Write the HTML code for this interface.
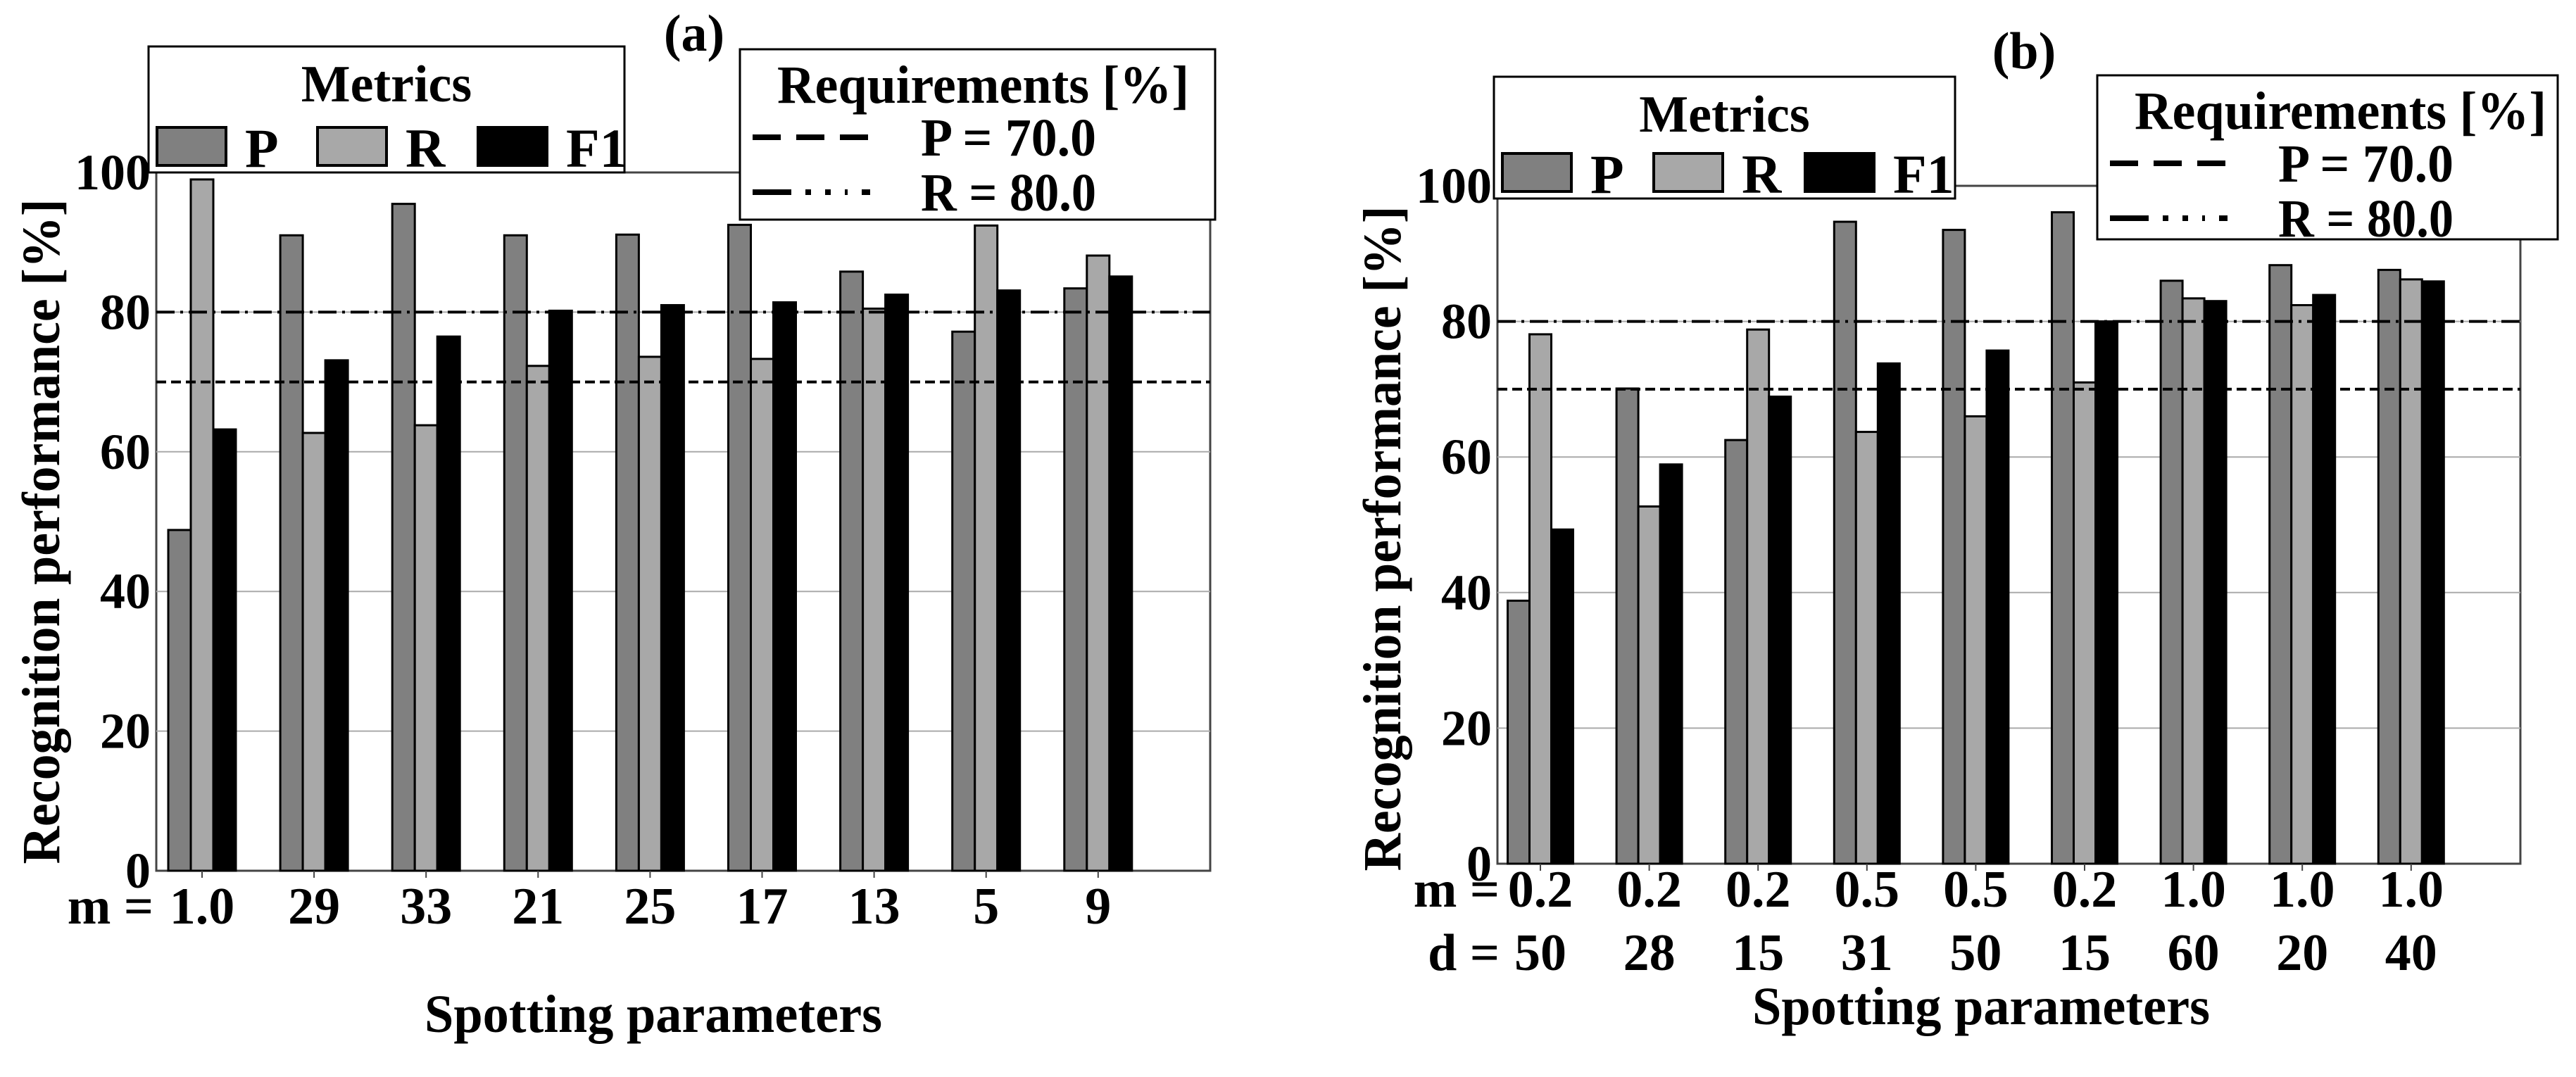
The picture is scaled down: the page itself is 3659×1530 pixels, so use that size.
<!DOCTYPE html>
<html><head><meta charset="utf-8"><style>
html,body{margin:0;padding:0;background:#fff;}
svg, svg text{font-family:"Liberation Serif","Times New Roman",serif;font-weight:bold;}
</style></head><body>
<svg id="chart" width="3659" height="1525" viewBox="0 0 3659 1525" xmlns="http://www.w3.org/2000/svg" font-family="Liberation Serif, serif" font-weight="bold"></svg>
<script>
const metrics = ["P","R","F1"];
const yTicks = [0,20,40,60,80,100];
const reqP = 70.0;
const reqR = 80.0;
const catsA = ["1.0","29","33","21","25","17","13","5","9"];
const pA = [48.8,91.0,95.5,91.0,91.1,92.5,85.8,77.2,83.4];
const rA = [99.0,62.7,63.8,72.3,73.6,73.3,80.5,92.4,88.1];
const f1A = [63.2,73.1,76.5,80.2,81.0,81.4,82.5,83.1,85.1];
const catsBm = ["0.2","0.2","0.2","0.5","0.5","0.2","1.0","1.0","1.0"];
const catsBd = ["50","28","15","31","50","15","60","20","40"];
const pB = [38.8,70.1,62.5,94.7,93.5,96.1,86.0,88.3,87.6];
const rB = [78.1,52.7,78.8,63.7,66.0,71.0,83.4,82.4,86.2];
const f1B = [49.3,58.9,68.9,73.8,75.7,80.0,83.0,83.9,85.9];

const NS="http://www.w3.org/2000/svg";
const svg=document.getElementById('chart');
function mk(tag,attrs,parent,txt){const e=document.createElementNS(NS,tag);for(const k in attrs)e.setAttribute(k,attrs[k]);if(tag==='text'){e.setAttribute('font-family','Liberation Serif, serif');e.setAttribute('font-weight','bold');}if(txt!==undefined)e.textContent=txt;(parent||svg).appendChild(e);return e;}
const fills={P:"#808080",R:"#a8a8a8",F1:"#000000"};

function panel(cfg){
  const g=mk('g',{});
  
  
  const y=v=>cfg.y0-(v/100)*(cfg.y0-cfg.y100);
  const x=i=>cfg.c0+i*cfg.pitch;
  const fr=mk('rect',{x:cfg.left,y:cfg.y100,width:cfg.right-cfg.left,height:cfg.y0-cfg.y100,fill:'none',stroke:'#444','stroke-width':3},g);
  
  
  yTicks.forEach(t=>{
    if(t>0&&t<100){const l=mk('line',{x1:cfg.left,x2:cfg.right,y1:y(t),y2:y(t),stroke:'#aaa','stroke-width':2},g);
      
      }
    const tl=mk('text',{x:cfg.left-8,y:y(t)+24,'text-anchor':'end','font-size':72},g,String(t));
    
    
  });
  const series=[cfg.p,cfg.r,cfg.f1];
  const bw=cfg.bw;
  cfg.cats.forEach((c,i)=>{
    series.forEach((s,k)=>{
      const bx=x(i)+(k-1.5)*bw;
      const b=mk('rect',{x:bx,y:y(s[i]),width:bw,height:cfg.y0-y(s[i]),fill:fills[metrics[k]],stroke:'#000','stroke-width':3},g);
      
      
    });
    const tk=mk('line',{x1:x(i),x2:x(i),y1:cfg.y0,y2:cfg.y0+10,stroke:'#444','stroke-width':2},g);
    
    
    const t1=mk('text',{x:x(i),y:cfg.labY1,'text-anchor':'middle','font-size':74},g,c);
    
    
    if(cfg.cats2){const t2=mk('text',{x:x(i),y:cfg.labY2,'text-anchor':'middle','font-size':74},g,cfg.cats2[i]);
      
      }
  });
  const lp=mk('line',{x1:cfg.left,x2:cfg.right,y1:y(reqP),y2:y(reqP),stroke:'#000','stroke-width':4,'stroke-dasharray':'14 7'},g);
  
  
  const lr=mk('line',{x1:cfg.left,x2:cfg.right,y1:y(reqR),y2:y(reqR),stroke:'#000','stroke-width':4,'stroke-dasharray':'26 8 4 8'},g);
  
  
  const m=mk('text',{x:cfg.mX,y:cfg.labY1,'text-anchor':'end','font-size':74},g,'m =');
  
  
  if(cfg.cats2){const d=mk('text',{x:cfg.mX,y:cfg.labY2,'text-anchor':'end','font-size':74},g,'d  =');
    
    }
  const xt=mk('text',{x:cfg.xtX,y:cfg.xtY,'text-anchor':'middle','font-size':76,textLength:650,lengthAdjust:'spacingAndGlyphs'},g,'Spotting parameters');
  
  
  const yt=mk('text',{x:0,y:0,'text-anchor':'middle','font-size':76,transform:`translate(${cfg.ytX},${cfg.ytY}) rotate(-90)`,textLength:945,lengthAdjust:'spacingAndGlyphs'},g,'Recognition performance [%]');
  
  
  const pt=mk('text',{x:cfg.ptX,y:cfg.ptY,'text-anchor':'middle','font-size':74},g,cfg.title);
  
  
  const L=cfg.ml;
  const lg=mk('g',{},g);
  
  
  mk('rect',{x:L.x,y:L.y,width:L.w,height:L.h,fill:'#fff',stroke:'#000','stroke-width':3},lg);
  mk('text',{x:L.x+L.w/2,y:L.y+78,'text-anchor':'middle','font-size':74},lg,'Metrics');
  metrics.forEach((mm,k)=>{
    const sx=L.x+12+k*L.step;
    const sw=mk('rect',{x:sx,y:L.y+L.h-64,width:98,height:54,fill:fills[mm],stroke:'#000','stroke-width':4},lg);
    
    
    const lt=mk('text',{x:sx+125,y:L.y+L.h-8,'font-size':78},lg,mm);
    
    
  });
  const R=cfg.rl;
  const rg=mk('g',{},g);
  
  
  mk('rect',{x:R.x,y:R.y,width:R.w,height:R.h,fill:'#fff',stroke:'#000','stroke-width':3},rg);
  mk('text',{x:R.x+53,y:R.y+76,'font-size':76,textLength:585,lengthAdjust:'spacingAndGlyphs'},rg,'Requirements [%]');
  mk('line',{x1:R.x+18,x2:R.x+185,y1:R.y+125,y2:R.y+125,stroke:'#000','stroke-width':8,'stroke-dasharray':'40 22'},rg);
  mk('text',{x:R.x+257,y:R.y+151,'font-size':76,textLength:249,lengthAdjust:'spacingAndGlyphs'},rg,'P = '+reqP.toFixed(1));
  mk('line',{x1:R.x+18,x2:R.x+185,y1:R.y+203,y2:R.y+203,stroke:'#000','stroke-width':8,'stroke-dasharray':'55 20 8 20 8 20 4 20'},rg);
  mk('text',{x:R.x+257,y:R.y+229,'font-size':76,textLength:249,lengthAdjust:'spacingAndGlyphs'},rg,'R = '+reqR.toFixed(1));
}

panel({name:'panel-a',title:'(a)',left:222,right:1719,y0:1237,y100:245,c0:287,pitch:159.1,bw:32,
  cats:catsA,p:pA,r:rA,f1:f1A,labY1:1312,mX:218,xtX:928,xtY:1466,ytX:84,ytY:755,ptX:986,ptY:72,
  ml:{x:211,y:66,w:676,h:179,step:228},rl:{x:1051,y:70,w:675,h:242}});
panel({name:'panel-b',title:'(b)',left:2127,right:3580,y0:1227,y100:264,c0:2188,pitch:154.6,bw:31,
  cats:catsBm,cats2:catsBd,p:pB,r:rB,f1:f1B,labY1:1288,labY2:1378,mX:2130,xtX:2814,xtY:1455,ytX:1989,ytY:765,ptX:2875,ptY:97,
  ml:{x:2122,y:109,w:655,h:173,step:215},rl:{x:2979,y:107,w:654,h:233}});
</script>
</body></html>
